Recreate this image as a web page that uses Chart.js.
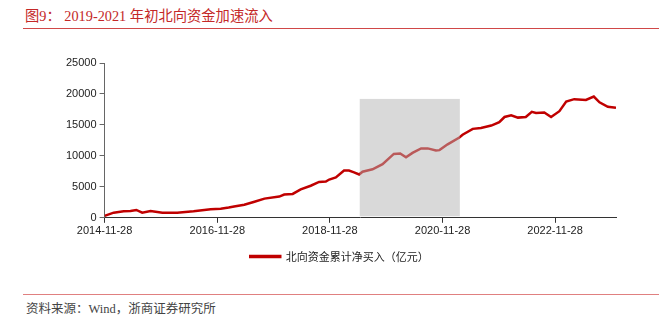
<!DOCTYPE html>
<html><head><meta charset="utf-8">
<script src="https://cdn.jsdelivr.net/npm/chart.js@4.4.1/dist/chart.umd.min.js"></script>
<style>
html,body{margin:0;padding:0;background:#fff;width:659px;height:315px;overflow:hidden;position:relative}
#title{position:absolute;left:25px;top:4px;font-family:"Liberation Serif","Noto Sans CJK SC",serif;font-size:14.3px;color:#C42828;white-space:nowrap}
#tline{position:absolute;left:23px;top:28px;width:636px;height:1px;background:#D04848}
#fline{position:absolute;left:23px;top:294px;width:636px;height:1px;background:#E08080}
#foot{position:absolute;left:26px;top:298px;font-family:"Liberation Serif","Noto Sans CJK SC",serif;font-size:12.5px;color:#444;white-space:nowrap}
#wrap{position:absolute;left:0;top:53px;width:659px;height:219px}
</style></head><body>
<div id="title">图9：&nbsp;2019-2021 年初北向资金加速流入</div>
<div id="tline"></div>
<div id="wrap"><canvas id="c"></canvas></div>
<div id="fline"></div>
<div id="foot">资料来源：Wind，浙商证券研究所</div>
<script>
const seriesName = '北向资金累计净买入（亿元）';
const dates = ['2014-11-28','2015-01-26','2015-04-01','2015-05-15','2015-06-22','2015-07-30','2015-09-22','2015-12-08','2016-03-13','2016-06-27','2016-10-16','2016-12-20','2017-02-10','2017-03-17','2017-05-22','2017-07-27','2017-09-30','2018-01-04','2018-02-05','2018-04-01','2018-05-23','2018-07-27','2018-09-19','2018-11-02','2018-11-24','2019-01-06','2019-02-28','2019-04-01','2019-05-04','2019-06-06','2019-06-28','2019-09-01','2019-11-05','2020-01-17','2020-02-27','2020-04-05','2020-05-17','2020-07-12','2020-08-24','2020-10-16','2020-11-08','2020-12-31','2021-03-17','2021-04-07','2021-06-12','2021-08-04','2021-10-10','2021-12-01','2022-01-04','2022-02-16','2022-04-01','2022-05-22','2022-06-30','2022-07-27','2022-09-19','2022-11-02','2022-12-26','2023-02-08','2023-04-01','2023-06-16','2023-08-06','2023-09-12','2023-11-05','2023-12-28'];
const values = [300,830,1040,1100,1270,830,1100,830,830,1040,1370,1450,1650,1820,2100,2600,3100,3430,3760,3860,4590,5180,5800,5850,6180,6510,7620,7620,7340,7000,7450,7830,8660,10320,10380,9770,10480,11210,11210,10880,10930,11870,12970,13410,14360,14520,14900,15450,16280,16560,16180,16280,17110,16940,17010,16280,17220,18760,19160,19040,19590,18660,17930,17760];
const xTickLabels = ['2014-11-28','2016-11-28','2018-11-28','2020-11-28','2022-11-28'];
const yTicks = [0,5000,10000,15000,20000,25000];
const shadeDates = ['2019-06-10','2021-03-20'];
const shadeValues = [250,19200];

const points = dates.map((d,i)=>({x:Date.parse(d), y:values[i]}));

const shadePlugin = {
  id:'shade',
  afterDatasetsDraw(chart){
    const {ctx, scales:{x,y}} = chart;
    const x0 = x.getPixelForValue(Date.parse(shadeDates[0]));
    const x1 = x.getPixelForValue(Date.parse(shadeDates[1]));
    const y0 = y.getPixelForValue(shadeValues[1]);
    const y1 = y.getPixelForValue(shadeValues[0]);
    ctx.save();
    ctx.fillStyle = 'rgba(180,180,180,0.5)';
    ctx.fillRect(x0,y0,x1-x0,y1-y0);
    ctx.restore();
  }
};

new Chart(document.getElementById('c'), {
  type:'line',
  data:{datasets:[{label:seriesName,data:points,borderColor:'#C00000',backgroundColor:'#C00000',borderWidth:2.5,pointRadius:0,tension:0,fill:false}]},
  options:{
    responsive:true, maintainAspectRatio:false, animation:false,
    layout:{padding:{left:63,right:43,top:10,bottom:0}},
    plugins:{
      legend:{position:'bottom',labels:{boxWidth:30,boxHeight:1,color:'#222',padding:11,font:{family:'"Noto Sans CJK SC"',size:11}}},
      tooltip:{enabled:false}
    },
    scales:{
      x:{type:'linear',min:Date.parse(dates[0]),max:Date.parse(dates[dates.length-1]),
        afterBuildTicks(s){s.ticks = xTickLabels.map(d=>({value:Date.parse(d)}));},
        ticks:{autoSkip:false,maxRotation:0,color:'#222',font:{family:'"Liberation Sans",Arial',size:11},padding:2,
          callback:(v)=>new Date(v).toISOString().slice(0,10)},
        grid:{drawOnChartArea:false,color:'#333',tickLength:5},
        border:{color:'#333',width:1}
      },
      y:{min:0,max:25000,
        afterBuildTicks(s){s.ticks = yTicks.map(v=>({value:v}));},
        ticks:{color:'#222',font:{family:'"Liberation Sans",Arial',size:11},padding:3,callback:(v)=>String(v)},
        grid:{drawOnChartArea:false,color:'#666',tickLength:5},
        border:{color:'#666',width:1}
      }
    }
  },
  plugins:[shadePlugin]
});
</script>
</body></html>
